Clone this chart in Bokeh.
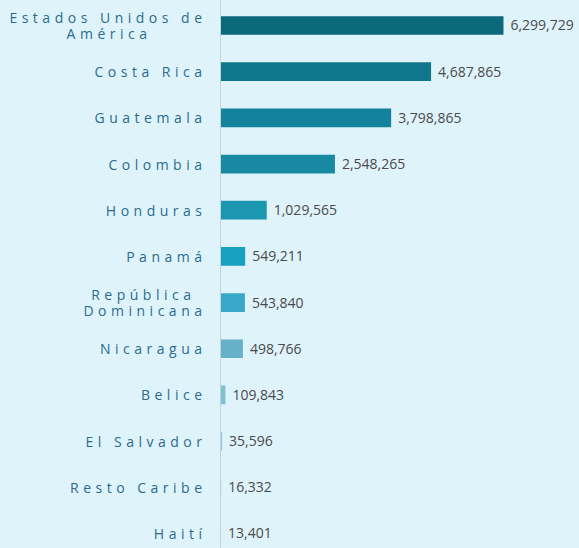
from bokeh.plotting import figure
from bokeh.layouts import row
from bokeh.models import ColumnDataSource, Range1d, Span, InlineStyleSheet, GlobalInlineStyleSheet
from bokeh.core.properties import value
from bokeh.embed import file_html
from bokeh.resources import INLINE

categories = ["Estados Unidos de\nAmérica", "Costa Rica", "Guatemala", "Colombia",
              "Honduras", "Panamá", "República\nDominicana", "Nicaragua",
              "Belice", "El Salvador", "Resto Caribe", "Haití"]
values = [6299729, 4687865, 3798865, 2548265, 1029565, 549211,
          543840, 498766, 109843, 35596, 16332, 13401]
bar_colors = ["#0c697c", "#0f768c", "#13829c", "#1889a3", "#1c97b1", "#16a1c1",
              "#3aa9c9", "#66b1c9", "#7dbfd3", "#8ec8dc", "#a8d6e6", "#b8deec"]

# horizontal nudge (px) that centres the shorter line of a two-line label
line_nudge = {"América": -55, "República": -11}

value_labels = [f"{v:,}" for v in values]
positions = list(range(len(categories)))

BG = "#dff3fa"
src = ColumnDataSource(dict(y=positions, val=values, lab=value_labels, color=bar_colors))

# one text item per label line
ly, ltext, ldx, ldy = [], [], [], []
for i, cat in enumerate(categories):
    lines = cat.split("\n")
    n = len(lines)
    for j, line in enumerate(lines):
        ly.append(i)
        ltext.append(line)
        ldx.append(-13 + line_nudge.get(line, 0))
        ldy.append((j - (n - 1) / 2) * 16)
lsrc = ColumnDataSource(dict(y=ly, text=ltext, dx=ldx, dy=ldy))

y_range = Range1d(start=11.325, end=-0.541)

common = dict(height=548, y_range=y_range, output_backend="svg", toolbar_location=None,
              x_axis_location=None, y_axis_location=None, min_border=0,
              background_fill_color=BG, border_fill_color=BG, outline_line_color=None)

left = figure(width=219, x_range=Range1d(0, 1), **common)
left.grid.visible = False
left.text(x=1, y="y", text="text", source=lsrc, text_align="left", text_baseline="middle",
          x_offset="dx", y_offset="dy", text_font=value("Open Sans"), text_font_size="14px",
          text_color="#2c6b8f")
left.stylesheets = [InlineStyleSheet(css=":host { letter-spacing: 4.5px; direction: rtl; }")]

right = figure(width=360, x_range=Range1d(-22000, 7992000), **common)
right.grid.visible = False
right.hbar(y="y", left=0, right="val", height=0.405, fill_color="color",
           line_color=None, source=src)
right.add_layout(Span(location=0, dimension="height", line_color="#c8d2d6", line_width=1))
right.text(x="val", y="y", text="lab", source=src, x_offset=7, text_baseline="middle",
           text_font=value("Open Sans"), text_font_size="14px", text_color="#4a4a4a")

layout = row(left, right, spacing=0)
layout.stylesheets = [GlobalInlineStyleSheet(
    css="html, body { margin: 0; padding: 0; background: #dff3fa; overflow: hidden; }")]

open("out.html", "w").write(file_html(layout, INLINE))
